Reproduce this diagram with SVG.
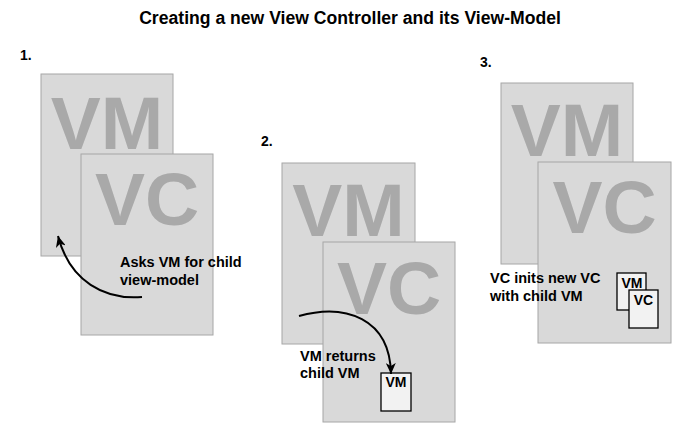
<svg xmlns="http://www.w3.org/2000/svg" width="700" height="433" viewBox="0 0 700 433">
  <style>
    .page { fill: #d9d9d9; stroke: #a6a6a6; stroke-width: 1; }
    .big { font-family: "Liberation Sans", Arial, sans-serif; font-weight: bold; font-size: 75px; fill: #a9a9a9; text-anchor: middle; }
    .lbl { font-family: "Liberation Sans", Arial, sans-serif; font-weight: bold; font-size: 14.5px; fill: #000; }
    .num { font-family: "Liberation Sans", Arial, sans-serif; font-weight: bold; font-size: 14px; fill: #000; }
    .title { font-family: "Liberation Sans", Arial, sans-serif; font-weight: bold; font-size: 17.6px; fill: #000; text-anchor: middle; }
    .small { fill: #f2f2f2; stroke: #000; stroke-width: 1.3; }
    .smalltxt { font-family: "Liberation Sans", Arial, sans-serif; font-weight: bold; font-size: 14px; fill: #000; text-anchor: middle; }
    .arrow { fill: none; stroke: #000; stroke-width: 2; marker-end: url(#ah); }
  </style>
  <defs>
    <marker id="ah" markerUnits="userSpaceOnUse" markerWidth="12" markerHeight="10" refX="11" refY="5" orient="auto" viewBox="0 0 12 10">
      <path d="M0,0 L11,5 L0,10 L3,5 Z" fill="#000"/>
    </marker>
  </defs>
  <rect width="700" height="433" fill="#fff"/>
  <text class="title" x="350" y="24">Creating a new View Controller and its View-Model</text>

  <g id="panel1">
    <text class="num" x="20" y="60">1.</text>
    <g id="p1-vm">
      <rect class="page" x="41" y="74" width="132" height="182"/>
      <text class="big" x="107" y="149">VM</text>
    </g>
    <g id="p1-vc">
      <rect class="page" x="81" y="154" width="132" height="181"/>
      <text class="big" x="147" y="225">VC</text>
    </g>
    <text class="lbl" x="120" y="267">Asks VM for child</text>
    <text class="lbl" x="120" y="284.5">view-model</text>
  </g>

  <g id="panel2">
    <text class="num" x="261" y="146">2.</text>
    <g id="p2-vm">
      <rect class="page" x="282" y="163" width="133" height="181"/>
      <text class="big" x="348.5" y="236">VM</text>
    </g>
    <g id="p2-vc">
      <rect class="page" x="323" y="242" width="132" height="180"/>
      <text class="big" x="389" y="314">VC</text>
    </g>
    <g id="p2-childvm">
      <rect class="small" x="381" y="373" width="30" height="38"/>
      <text class="smalltxt" x="396" y="387">VM</text>
    </g>
    <text class="lbl" x="300" y="360.5">VM returns</text>
    <text class="lbl" x="300" y="378">child VM</text>
  </g>

  <g id="panel3">
    <text class="num" x="480" y="67">3.</text>
    <g id="p3-vm">
      <rect class="page" x="501" y="83" width="132" height="181"/>
      <text class="big" x="567" y="156">VM</text>
    </g>
    <g id="p3-vc">
      <rect class="page" x="538" y="162" width="133" height="181"/>
      <text class="big" x="604.5" y="233">VC</text>
    </g>
    <g id="p3-childvm">
      <rect class="small" x="617" y="273" width="29" height="37"/>
      <text class="smalltxt" x="632" y="288">VM</text>
    </g>
    <g id="p3-childvc">
      <rect class="small" x="629" y="290" width="29" height="38"/>
      <text class="smalltxt" x="643.5" y="305">VC</text>
    </g>
    <text class="lbl" x="490" y="283">VC inits new VC</text>
    <text class="lbl" x="490" y="301">with child VM</text>
  </g>

  <g id="connectors">
    <path class="arrow" d="M142,297 C105,300 70,282 58,236"/>
    <path class="arrow" d="M299,316 C345,303 390,318 391,374"/>
  </g>
</svg>
